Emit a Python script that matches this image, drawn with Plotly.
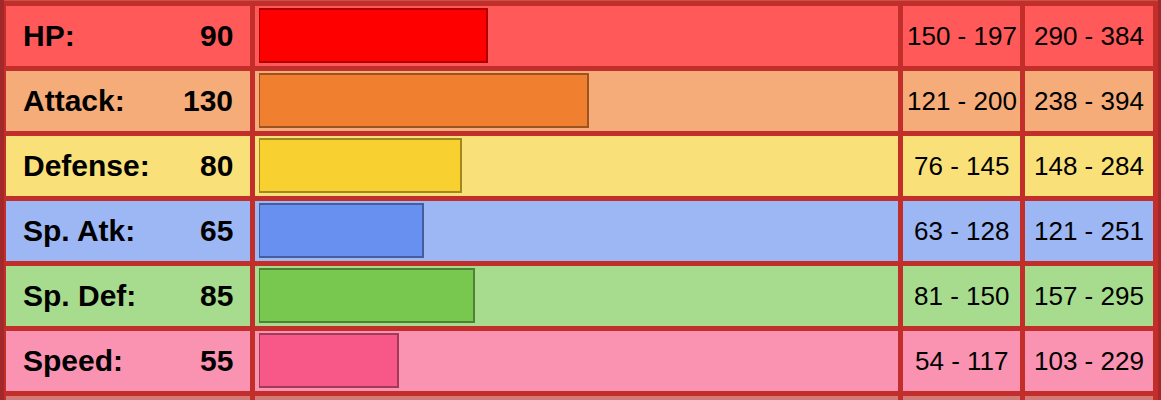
import plotly.graph_objects as go

# ---------------- data ----------------
stats = ["HP", "Attack", "Defense", "Sp. Atk", "Sp. Def", "Speed"]
base_values = [90, 130, 80, 65, 85, 55]
lv50_min = [150, 121, 76, 63, 81, 54]
lv50_max = [197, 200, 145, 128, 150, 117]
lv100_min = [290, 238, 148, 121, 157, 103]
lv100_max = [384, 394, 284, 251, 295, 229]
stat_max = 255

# ---------------- styles ----------------
row_bg = ["#FF5959", "#F5AC78", "#FAE078", "#9DB7F5", "#A7DB8D", "#FA92B2"]
bar_fill = ["#FF0000", "#F08030", "#F8D030", "#6890F0", "#78C850", "#F85888"]
bar_edge = ["#B00000", "#9C531F", "#A1871F", "#445E9C", "#4E8234", "#A13959"]
grid_color = "#C22F2A"
edge_dark = "#A3282A"
extra_row = "#D27B78"

W, H = 1161, 400
pitch, cell_h, top0 = 65, 60, 6
cols = [(6, 250), (255, 898), (903, 1020), (1025, 1153)]
bar_x0, bar_x1 = 259, 904  # pixel span of 0..stat_max


def px(x):
    return x / W


def py(y):
    return 1 - y / H


shapes = []
# outer dark edges
shapes.append(dict(type="rect", xref="paper", yref="paper", x0=0, x1=px(4), y0=0, y1=1,
                   fillcolor=edge_dark, line_width=0, layer="below"))
shapes.append(dict(type="rect", xref="paper", yref="paper", x0=px(1158), x1=1, y0=0, y1=1,
                   fillcolor=edge_dark, line_width=0, layer="below"))
shapes.append(dict(type="rect", xref="paper", yref="paper", x0=px(4), x1=px(1158), y0=py(1), y1=1,
                   fillcolor="#C9514B", line_width=0, layer="below"))
# cells
for i, c in enumerate(row_bg):
    t = top0 + pitch * i
    for (a, b) in cols:
        shapes.append(dict(type="rect", xref="paper", yref="paper",
                           x0=px(a), x1=px(b), y0=py(t + cell_h), y1=py(t),
                           fillcolor=c, line_width=0, layer="below"))
# partial next row at bottom
t = top0 + pitch * len(row_bg)
for (a, b) in cols:
    shapes.append(dict(type="rect", xref="paper", yref="paper",
                       x0=px(a), x1=px(b), y0=0, y1=py(t),
                       fillcolor=extra_row, line_width=0, layer="below"))

fig = go.Figure()
fig.add_trace(go.Bar(
    y=stats, x=base_values, orientation="h", base=0,
    width=53 / pitch,
    marker=dict(color=bar_fill, line=dict(color=bar_edge, width=2)),
    hoverinfo="x+y", showlegend=False,
))

annotations = []
font_b = dict(family="Liberation Sans, Arial, sans-serif", size=30, color="black", weight="bold")
font_r = dict(family="Liberation Sans, Arial, sans-serif", size=26, color="black")
for i, s in enumerate(stats):
    annotations.append(dict(xref="paper", yref="y", x=px(21), y=s, text=s + ":",
                            showarrow=False, xanchor="left", yanchor="middle", font=font_b))
    annotations.append(dict(xref="paper", yref="y", x=px(235), y=s, text=str(base_values[i]),
                            showarrow=False, xanchor="right", yanchor="middle", font=font_b))
    annotations.append(dict(xref="paper", yref="y", x=px((cols[2][0] + cols[2][1]) / 2), y=s,
                            text=f"{lv50_min[i]} - {lv50_max[i]}",
                            showarrow=False, xanchor="center", yanchor="middle", font=font_r))
    annotations.append(dict(xref="paper", yref="y", x=px((cols[3][0] + cols[3][1]) / 2), y=s,
                            text=f"{lv100_min[i]} - {lv100_max[i]}",
                            showarrow=False, xanchor="center", yanchor="middle", font=font_r))

c0 = 35.5  # pixel centre of first bar
fig.update_layout(
    width=W, height=H,
    margin=dict(l=0, r=0, t=0, b=0),
    paper_bgcolor=grid_color, plot_bgcolor="rgba(0,0,0,0)",
    shapes=shapes, annotations=annotations,
    xaxis=dict(domain=[px(bar_x0), px(bar_x1)], range=[0, stat_max], visible=False,
               showgrid=False, zeroline=False, fixedrange=True),
    yaxis=dict(type="category", categoryarray=stats, domain=[0, 1],
               range=[(H - c0) / pitch, -c0 / pitch], visible=False,
               showgrid=False, zeroline=False, fixedrange=True),
    bargap=0,
)

fig.write_html(
    "out.html",
    config={"displayModeBar": False},
    post_script="document.body.style.margin='0';document.body.style.padding='0';"
                "document.body.style.overflow='hidden';",
)
